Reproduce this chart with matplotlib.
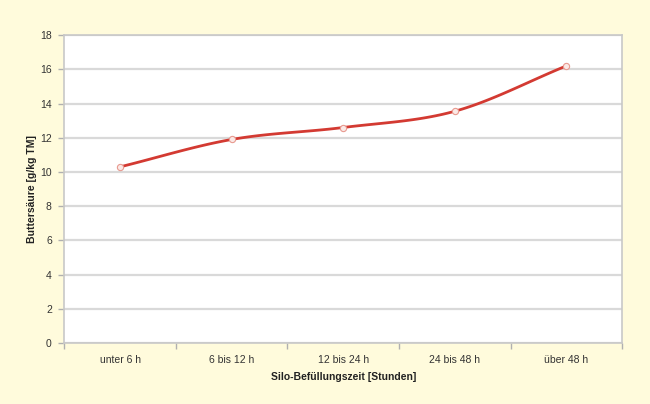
import numpy as np
import matplotlib.pyplot as plt

plt.rcParams['font.family'] = ['Liberation Sans', 'DejaVu Sans']

categories = ["unter 6 h", "6 bis 12 h", "12 bis 24 h", "24 bis 48 h", "über 48 h"]
buttersaeure = [10.3, 11.9, 12.6, 13.55, 16.2]
y_ticks = [0, 2, 4, 6, 8, 10, 12, 14, 16, 18]


def smooth(xs, ys, n=30):
    # Catmull-Rom style smoothing like Excel's "smoothed line"
    xs = np.asarray(xs, float)
    ys = np.asarray(ys, float)
    px = np.concatenate([[2 * xs[0] - xs[1]], xs, [2 * xs[-1] - xs[-2]]])
    py = np.concatenate([[2 * ys[0] - ys[1]], ys, [2 * ys[-1] - ys[-2]]])
    ox, oy = [], []
    t = np.linspace(0, 1, n)
    for i in range(1, len(px) - 2):
        for p, o in ((px, ox), (py, oy)):
            p0, p1, p2, p3 = p[i - 1], p[i], p[i + 1], p[i + 2]
            o.extend(0.5 * ((2 * p1) + (-p0 + p2) * t
                            + (2 * p0 - 5 * p1 + 4 * p2 - p3) * t ** 2
                            + (-p0 + 3 * p1 - 3 * p2 + p3) * t ** 3))
    return np.array(ox), np.array(oy)


bg = "#fffbdc"
fig = plt.figure(figsize=(6.5, 4.04), dpi=100, facecolor=bg)
ax = fig.add_axes([0.099, 0.151, 0.858, 0.762])
ax.set_facecolor("white")

x = np.arange(len(categories))
sx, sy = smooth(x, buttersaeure)
ax.plot(sx, sy, color="#d33a32", lw=2.0, zorder=3)
ax.plot(x, buttersaeure, "o", ms=4.5, mfc="#fbe9e6", mec="#e89a90", mew=0.8, zorder=4)

ax.set_xlim(-0.5, len(categories) - 0.5)
ax.set_ylim(0, 18)
ax.set_yticks(y_ticks)
ax.set_xticks(x)
ax.set_xticklabels(categories)
ax.set_xticks(np.arange(-0.5, len(categories), 1), minor=True)
ax.tick_params(axis="x", which="major", length=0, pad=9, labelsize=7.5, colors="#333333")
ax.tick_params(axis="x", which="minor", length=4, color="#b0b0b0", width=1)
ax.tick_params(axis="y", length=4, color="#b0b0b0", width=1, labelsize=7.5, pad=5)
ax.tick_params(axis="y", colors="#b0b0b0", labelcolor="#333333")

ax.yaxis.grid(True, color="#d9d9d9", lw=1.6)
ax.set_axisbelow(True)
for s in ax.spines.values():
    s.set_color("#c8c8c8")
    s.set_linewidth(1.2)

ax.set_xlabel("Silo-Befüllungszeit [Stunden]", fontsize=7.5, fontweight="bold", labelpad=5, color="#222222")
ax.set_ylabel("Buttersäure [g/kg TM]", fontsize=7.5, fontweight="bold", labelpad=2, color="#222222")

fig.savefig("out.png", dpi=100, facecolor=bg)
